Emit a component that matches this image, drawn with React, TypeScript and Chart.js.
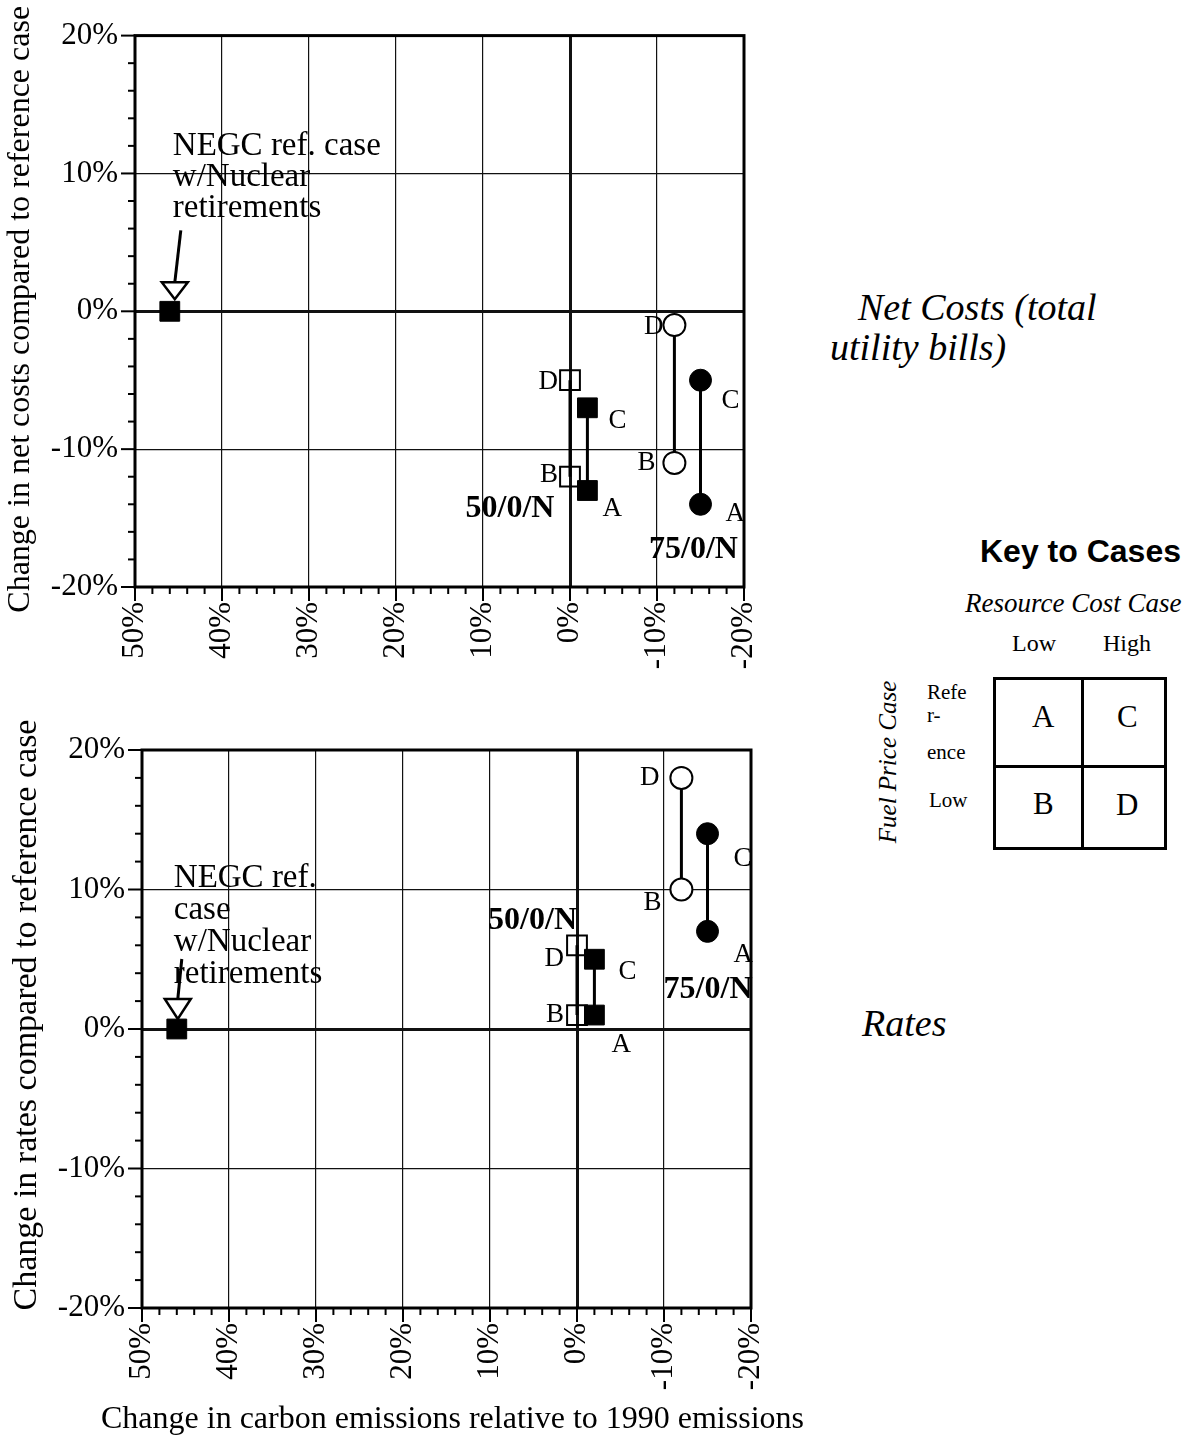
import React, { useEffect, useRef } from 'react';
import { Chart, registerables } from 'chart.js';

Chart.register(...registerables);

const SERIF = '"Liberation Serif", "Times New Roman", serif';
const SANS = '"Liberation Sans", Arial, sans-serif';

// Horizontal axis: change in carbon emissions relative to 1990 (%)
const EMISSIONS_MIN = -20;
const EMISSIONS_MAX = 50;
const EMISSION_TICKS = [50, 40, 30, 20, 10, 0, -10, -20];
// Vertical axis: change compared to the reference case (%)
const CHANGE_MIN = -20;
const CHANGE_MAX = 20;
const CHANGE_TICKS = [20, 10, 0, -10, -20];
const MINOR_STEP = 2;

// Case letters; every value array below follows this order
const CASES = ['A', 'B', 'C', 'D'];
const REF_FUEL_CASES = ['C', 'A'];
const LOW_FUEL_CASES = ['D', 'B'];

// Emissions change per scenario (reference fuel price: A, C / low fuel price: B, D)
const NEGC_EMISSIONS = 46;
const S50_EMISSIONS_REF_FUEL = -2;
const S50_EMISSIONS_LOW_FUEL = 0;
const S75_EMISSIONS_REF_FUEL = -15;
const S75_EMISSIONS_LOW_FUEL = -12;

// Net costs (total utility bills), % change, in CASES order
const NEGC_NET_COSTS = 0;
const S50_NET_COSTS = [-13, -12, -7, -5];
const S75_NET_COSTS = [-14, -11, -5, -1];

// Rates, % change, in CASES order
const NEGC_RATES = 0;
const S50_RATES = [1, 1, 5, 6];
const S75_RATES = [7, 10, 14, 18];

const NEGC_NOTE_NET = ['NEGC ref. case', 'w/Nuclear', 'retirements'];
const NEGC_NOTE_RATES = ['NEGC ref.', 'case', 'w/Nuclear', 'retirements'];

type LabelSpot = { dx: number; dy: number; align: CanvasTextAlign };

type PanelLayout = {
  caseLabels: Record<string, LabelSpot>;
  groupLabels: { text: string; anchor: string; dx: number; dy: number; align: CanvasTextAlign }[];
  note: { lines: string[]; dx: number; dy: number; lineGap: number };
  arrow: { fromDx: number; fromDy: number; toDx: number; toDy: number; tipDy: number; halfWidth: number };
  yTitle: { text: string; size: number; dxFromLeft: number; dyFromMiddle: number };
  xTitle?: { text: string; size: number; dxFromMiddle: number; dyFromBottom: number };
};

function series(emissions: number, values: number[], cases: string[]) {
  return cases.map((c) => ({ x: emissions, y: values[CASES.indexOf(c)] }));
}

const filledSquare = {
  pointStyle: 'rect',
  pointRadius: 14,
  pointBackgroundColor: '#000',
  pointBorderColor: '#000',
  pointBorderWidth: 1,
};
const openSquare = {
  pointStyle: 'rect',
  pointRadius: 14,
  pointBackgroundColor: 'rgba(255,255,255,0)',
  pointBorderColor: '#000',
  pointBorderWidth: 2,
};
const filledCircle = {
  pointStyle: 'circle',
  pointRadius: 11,
  pointBackgroundColor: '#000',
  pointBorderColor: '#000',
  pointBorderWidth: 1,
};
const openCircle = {
  pointStyle: 'circle',
  pointRadius: 11,
  pointBackgroundColor: '#fff',
  pointBorderColor: '#000',
  pointBorderWidth: 2,
};
const connector = { showLine: true, borderColor: '#000', borderWidth: 3 };

function buildDatasets(negc: number, s50: number[], s75: number[]) {
  return [
    { seriesKey: 'negc', caseLetters: [''], data: [{ x: NEGC_EMISSIONS, y: negc }], ...filledSquare, showLine: false },
    { seriesKey: 's50low', caseLetters: LOW_FUEL_CASES, data: series(S50_EMISSIONS_LOW_FUEL, s50, LOW_FUEL_CASES), ...openSquare, ...connector },
    { seriesKey: 's50ref', caseLetters: REF_FUEL_CASES, data: series(S50_EMISSIONS_REF_FUEL, s50, REF_FUEL_CASES), ...filledSquare, ...connector },
    { seriesKey: 's75low', caseLetters: LOW_FUEL_CASES, data: series(S75_EMISSIONS_LOW_FUEL, s75, LOW_FUEL_CASES), ...openCircle, ...connector },
    { seriesKey: 's75ref', caseLetters: REF_FUEL_CASES, data: series(S75_EMISSIONS_REF_FUEL, s75, REF_FUEL_CASES), ...filledCircle, ...connector },
  ];
}

const NET_LAYOUT: PanelLayout = {
  caseLabels: {
    's50low:D': { dx: -12, dy: 2, align: 'right' },
    's50low:B': { dx: -12, dy: -2, align: 'right' },
    's50ref:C': { dx: 21, dy: 13, align: 'left' },
    's50ref:A': { dx: 15, dy: 18, align: 'left' },
    's75low:D': { dx: -11, dy: 2, align: 'right' },
    's75low:B': { dx: -19, dy: 0, align: 'right' },
    's75ref:C': { dx: 21, dy: 21, align: 'left' },
    's75ref:A': { dx: 25, dy: 10, align: 'left' },
  },
  groupLabels: [
    { text: '50/0/N', anchor: 's50ref:A', dx: -33, dy: 18, align: 'right' },
    { text: '75/0/N', anchor: 's75ref:A', dx: -7, dy: 45, align: 'center' },
  ],
  note: { lines: NEGC_NOTE_NET, dx: 3, dy: -156, lineGap: 31 },
  arrow: { fromDx: 11, fromDy: -81, toDx: 5, toDy: -29, tipDy: -12, halfWidth: 13 },
  yTitle: { text: 'Change in net costs compared to reference case', size: 32, dxFromLeft: -114, dyFromMiddle: -2 },
};

const RATES_LAYOUT: PanelLayout = {
  caseLabels: {
    's50low:D': { dx: -13, dy: 14, align: 'right' },
    's50low:B': { dx: -13, dy: 0, align: 'right' },
    's50ref:C': { dx: 24, dy: 13, align: 'left' },
    's50ref:A': { dx: 17, dy: 30, align: 'left' },
    's75low:D': { dx: -22, dy: 0, align: 'right' },
    's75low:B': { dx: -20, dy: 13, align: 'right' },
    's75ref:C': { dx: 26, dy: 25, align: 'left' },
    's75ref:A': { dx: 26, dy: 24, align: 'left' },
  },
  groupLabels: [
    { text: '50/0/N', anchor: 's50low:D', dx: 0, dy: -25, align: 'right' },
    { text: '75/0/N', anchor: 's75ref:A', dx: 45, dy: 58, align: 'right' },
  ],
  note: { lines: NEGC_NOTE_RATES, dx: -3, dy: -142, lineGap: 32 },
  arrow: { fromDx: 5, fromDy: -70, toDx: 1, toDy: -30, tipDy: -10, halfWidth: 13 },
  yTitle: { text: 'Change in rates compared to reference case', size: 34, dxFromLeft: -115, dyFromMiddle: -14 },
  xTitle: { text: 'Change in carbon emissions relative to 1990 emissions', size: 32, dxFromMiddle: 6, dyFromBottom: 112 },
};

function panelDecor(layout: PanelLayout) {
  return {
    id: 'panelDecor',
    beforeDatasetsDraw(chart: any) {
      const { ctx, chartArea: a, scales } = chart;
      ctx.save();
      ctx.strokeStyle = '#000';
      ctx.lineWidth = 2;
      scales.x.ticks.forEach((t: any) => {
        const px = scales.x.getPixelForValue(t.value);
        const len = EMISSION_TICKS.includes(t.value) ? 14 : 7;
        ctx.beginPath();
        ctx.moveTo(px, a.bottom);
        ctx.lineTo(px, a.bottom + len);
        ctx.stroke();
      });
      scales.y.ticks.forEach((t: any) => {
        const py = scales.y.getPixelForValue(t.value);
        const len = CHANGE_TICKS.includes(t.value) ? 14 : 7;
        ctx.beginPath();
        ctx.moveTo(a.left, py);
        ctx.lineTo(a.left - len, py);
        ctx.stroke();
      });
      ctx.lineWidth = 3;
      ctx.strokeRect(a.left, a.top, a.right - a.left, a.bottom - a.top);

      // axis titles, drawn at full width (no squeezing to the plot size)
      ctx.fillStyle = '#000';
      ctx.textAlign = 'center';
      ctx.textBaseline = 'middle';
      ctx.save();
      ctx.font = `${layout.yTitle.size}px ${SERIF}`;
      ctx.translate(a.left + layout.yTitle.dxFromLeft, (a.top + a.bottom) / 2 + layout.yTitle.dyFromMiddle);
      ctx.rotate(-Math.PI / 2);
      ctx.fillText(layout.yTitle.text, 0, 0);
      ctx.restore();
      if (layout.xTitle) {
        ctx.font = `${layout.xTitle.size}px ${SERIF}`;
        ctx.fillText(
          layout.xTitle.text,
          (a.left + a.right) / 2 + layout.xTitle.dxFromMiddle,
          a.bottom + layout.xTitle.dyFromBottom,
        );
      }
      ctx.restore();
    },
    afterDatasetsDraw(chart: any) {
      const { ctx } = chart;
      const spots: Record<string, { x: number; y: number }> = {};
      chart.data.datasets.forEach((ds: any, i: number) => {
        const meta = chart.getDatasetMeta(i);
        meta.data.forEach((el: any, j: number) => {
          spots[`${ds.seriesKey}:${ds.caseLetters[j]}`] = { x: el.x, y: el.y };
        });
      });
      ctx.save();
      ctx.fillStyle = '#000';
      ctx.textBaseline = 'middle';
      ctx.font = `27px ${SERIF}`;
      Object.keys(layout.caseLabels).forEach((key) => {
        const p = spots[key];
        if (!p) return;
        const s = layout.caseLabels[key];
        ctx.textAlign = s.align;
        ctx.fillText(key.split(':')[1], p.x + s.dx, p.y + s.dy);
      });
      ctx.font = `bold 32px ${SERIF}`;
      layout.groupLabels.forEach((g) => {
        const p = spots[g.anchor];
        if (!p) return;
        ctx.textAlign = g.align;
        ctx.fillText(g.text, p.x + g.dx, p.y + g.dy);
      });

      // NEGC reference note with its arrow
      const ref = spots['negc:'];
      if (ref) {
        ctx.font = `33px ${SERIF}`;
        ctx.textAlign = 'left';
        ctx.textBaseline = 'alphabetic';
        layout.note.lines.forEach((line, k) => {
          ctx.fillText(line, ref.x + layout.note.dx, ref.y + layout.note.dy + k * layout.note.lineGap);
        });
        const ar = layout.arrow;
        ctx.strokeStyle = '#000';
        ctx.lineWidth = 3;
        ctx.beginPath();
        ctx.moveTo(ref.x + ar.fromDx, ref.y + ar.fromDy);
        ctx.lineTo(ref.x + ar.toDx, ref.y + ar.toDy);
        ctx.stroke();
        ctx.lineWidth = 2.5;
        ctx.fillStyle = '#fff';
        ctx.beginPath();
        ctx.moveTo(ref.x + ar.toDx - ar.halfWidth, ref.y + ar.toDy);
        ctx.lineTo(ref.x + ar.toDx + ar.halfWidth, ref.y + ar.toDy);
        ctx.lineTo(ref.x + ar.toDx, ref.y + ar.tipDy);
        ctx.closePath();
        ctx.fill();
        ctx.stroke();
      }
      ctx.restore();
    },
  };
}

type PanelProps = {
  width: number;
  height: number;
  top: number;
  negc: number;
  s50: number[];
  s75: number[];
  layout: PanelLayout;
  yAxisWidth: number;
  xAxisHeight: number;
  padTop: number;
  padRight: number;
};

function Panel(props: PanelProps) {
  const ref = useRef<HTMLCanvasElement | null>(null);
  useEffect(() => {
    if (!ref.current) return;
    const isMajorX = (v: number) => EMISSION_TICKS.includes(v);
    const isMajorY = (v: number) => CHANGE_TICKS.includes(v);
    const chart = new Chart(ref.current, {
      type: 'scatter',
      data: { datasets: buildDatasets(props.negc, props.s50, props.s75) as any },
      plugins: [panelDecor(props.layout)],
      options: {
        responsive: false,
        animation: false,
        events: [],
        devicePixelRatio: 1,
        layout: { padding: { top: props.padTop, right: props.padRight, left: 0, bottom: 0 } },
        plugins: { legend: { display: false }, tooltip: { enabled: false } },
        scales: {
          x: {
            type: 'linear',
            reverse: true,
            min: EMISSIONS_MIN,
            max: EMISSIONS_MAX,
            afterFit: (scale: any) => {
              scale.height = props.xAxisHeight;
            },
            ticks: {
              stepSize: MINOR_STEP,
              autoSkip: false,
              minRotation: 90,
              maxRotation: 90,
              padding: 15,
              color: '#000',
              font: { family: SERIF, size: 31 },
              callback: (v: any) => (isMajorX(Number(v)) ? `${v}%` : ''),
            },
            grid: {
              drawTicks: false,
              color: (c: any) => (c.tick && isMajorX(c.tick.value) ? '#111' : 'rgba(0,0,0,0)'),
              lineWidth: (c: any) => (c.tick && c.tick.value === 0 ? 3 : 1.2),
            },
            border: { display: false },
          },
          y: {
            type: 'linear',
            min: CHANGE_MIN,
            max: CHANGE_MAX,
            afterFit: (scale: any) => {
              scale.width = props.yAxisWidth;
            },
            ticks: {
              stepSize: MINOR_STEP,
              autoSkip: false,
              padding: 17,
              color: '#000',
              font: { family: SERIF, size: 31 },
              callback: (v: any) => (isMajorY(Number(v)) ? `${v}%` : ''),
            },
            grid: {
              drawTicks: false,
              color: (c: any) => (c.tick && isMajorY(c.tick.value) ? '#111' : 'rgba(0,0,0,0)'),
              lineWidth: (c: any) => (c.tick && c.tick.value === 0 ? 3 : 1.2),
            },
            border: { display: false },
          },
        },
      } as any,
    });
    return () => chart.destroy();
  }, []);
  return (
    <canvas
      ref={ref}
      width={props.width}
      height={props.height}
      style={{ position: 'absolute', left: 0, top: props.top, width: props.width, height: props.height }}
    />
  );
}

const txt = (extra: React.CSSProperties): React.CSSProperties => ({
  position: 'absolute',
  whiteSpace: 'nowrap',
  color: '#000',
  fontFamily: SERIF,
  ...extra,
});

function KeyToCases() {
  const cell = { position: 'absolute' as const, fontFamily: SERIF, fontSize: 31, lineHeight: '34px' };
  return (
    <>
      <div style={txt({ left: 980, top: 532, fontFamily: SANS, fontWeight: 'bold', fontSize: 32, lineHeight: '38px' })}>
        Key to Cases
      </div>
      <div style={txt({ left: 965, top: 587, fontStyle: 'italic', fontSize: 27, lineHeight: '32px' })}>
        Resource Cost Case
      </div>
      <div style={txt({ left: 1012, top: 628, fontSize: 24, lineHeight: '30px' })}>Low</div>
      <div style={txt({ left: 1103, top: 628, fontSize: 24, lineHeight: '30px' })}>High</div>
      <div
        style={txt({
          left: 888,
          top: 762,
          fontStyle: 'italic',
          fontSize: 25,
          lineHeight: '30px',
          transform: 'translate(-50%, -50%) rotate(-90deg)',
        })}
      >
        Fuel Price Case
      </div>
      <div style={txt({ left: 927, top: 680, fontSize: 21, lineHeight: '24px' })}>Refe</div>
      <div style={txt({ left: 927, top: 703, fontSize: 21, lineHeight: '24px' })}>r-</div>
      <div style={txt({ left: 927, top: 740, fontSize: 21, lineHeight: '24px' })}>ence</div>
      <div style={txt({ left: 929, top: 788, fontSize: 21, lineHeight: '24px' })}>Low</div>
      <div
        style={{
          position: 'absolute',
          left: 993,
          top: 677,
          width: 174,
          height: 173,
          boxSizing: 'border-box',
          border: '3px solid #000',
        }}
      >
        <div style={{ position: 'absolute', left: 85, top: 0, width: 3, height: '100%', background: '#000' }} />
        <div style={{ position: 'absolute', left: 0, top: 85, width: '100%', height: 3, background: '#000' }} />
        <div style={{ ...cell, left: 36, top: 20 }}>A</div>
        <div style={{ ...cell, left: 121, top: 20 }}>C</div>
        <div style={{ ...cell, left: 37, top: 107 }}>B</div>
        <div style={{ ...cell, left: 120, top: 108 }}>D</div>
      </div>
    </>
  );
}

export default function App() {
  return (
    <div style={{ position: 'absolute', left: 0, top: 0, width: 1196, height: 1442, background: '#fff', overflow: 'hidden' }}>
      <Panel
        width={800}
        height={690}
        top={0}
        negc={NEGC_NET_COSTS}
        s50={S50_NET_COSTS}
        s75={S75_NET_COSTS}
        layout={NET_LAYOUT}
        yAxisWidth={135}
        xAxisHeight={103}
        padTop={32}
        padRight={56}
      />
      <Panel
        width={820}
        height={752}
        top={690}
        negc={NEGC_RATES}
        s50={S50_RATES}
        s75={S75_RATES}
        layout={RATES_LAYOUT}
        yAxisWidth={142}
        xAxisHeight={134}
        padTop={60}
        padRight={69}
      />
      <div style={txt({ left: 858, top: 285, fontStyle: 'italic', fontSize: 38, lineHeight: '44px' })}>Net Costs (total</div>
      <div style={txt({ left: 830, top: 325, fontStyle: 'italic', fontSize: 38, lineHeight: '44px' })}>utility bills)</div>
      <div style={txt({ left: 862, top: 1001, fontStyle: 'italic', fontSize: 38, lineHeight: '44px' })}>Rates</div>
      <KeyToCases />
    </div>
  );
}
